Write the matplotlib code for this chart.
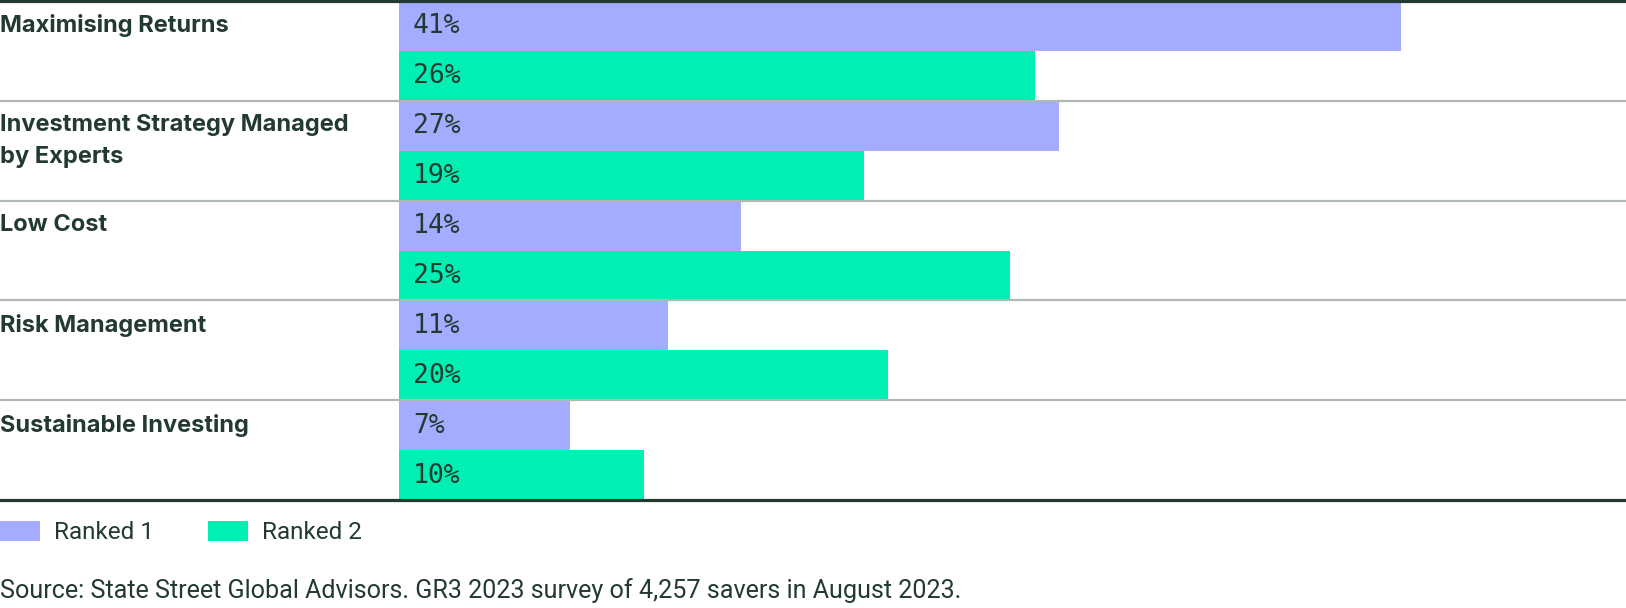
import matplotlib
matplotlib.use("Agg")
import matplotlib.pyplot as plt
from matplotlib.patches import Rectangle
from matplotlib.transforms import blended_transform_factory

categories = ["Maximising Returns", "Investment Strategy Managed\nby Experts",
              "Low Cost", "Risk Management", "Sustainable Investing"]
ranked1 = [41, 27, 14, 11, 7]
ranked2 = [26, 19, 25, 20, 10]
series_names = ["Ranked 1", "Ranked 2"]
source = "Source: State Street Global Advisors. GR3 2023 survey of 4,257 savers in August 2023."

C1 = "#a5abff"
C2 = "#00f0b4"
DARK = "#233a30"
GREY = "#b0b8b4"

W, H = 1626, 608
PX = 72 / 100  # points per pixel
fig = plt.figure(figsize=(W / 100, H / 100), dpi=100)
ax = fig.add_axes([399 / W, 108 / H, 1 - 399 / W, 499 / H])
ax.set_xlim(0, (W - 399) / 24.45)
n = len(categories)
ax.set_ylim(n, 0)
ax.axis("off")

ax.barh([i + 0.25 for i in range(n)], ranked1, height=0.5, color=C1, label=series_names[0])
ax.barh([i + 0.75 for i in range(n)], ranked2, height=0.5, color=C2, label=series_names[1])

bt = blended_transform_factory(fig.transFigure, ax.transData)
for i in range(n):
    for v, y in ((ranked1[i], i + 0.25), (ranked2[i], i + 0.75)):
        ax.annotate(f"{v}%", xy=(0, y), xytext=(14 * PX, -7.5 * PX), textcoords="offset points",
                    ha="left", va="baseline", fontsize=19, color=DARK,
                    family=["DejaVu Sans Mono"])
    ax.annotate(categories[i], xy=(0, i), xycoords=bt,
                xytext=(0, -13.3 * PX), textcoords="offset points", ha="left", va="top",
                fontsize=17, fontweight="bold", color=DARK, family=["Inter", "DejaVu Sans"],
                linespacing=1.6)

for i in range(1, n):
    ax.plot([0, 1], [i, i], transform=bt, color=GREY, lw=1.6, clip_on=False, zorder=3)
for yv in (0, n):
    ax.plot([0, 1], [yv, yv], transform=bt, color=DARK, lw=2.3, clip_on=False, zorder=4)

# legend
lf = ["Roboto", "DejaVu Sans"]
for j, (c, name) in enumerate(zip([C1, C2], series_names)):
    x0 = [0, 208][j]
    fig.patches.append(Rectangle((x0 / W, 1 - 541 / H), 40 / W, 20 / H, transform=fig.transFigure,
                                 facecolor=c, edgecolor="none"))
    fig.text((x0 + 54) / W, 1 - 539 / H, name, ha="left", va="baseline", fontsize=17.5,
             color=DARK, family=lf)

fig.text(0, 1 - 598 / H, source, ha="left", va="baseline", fontsize=18.1, color=DARK, family=lf)

fig.savefig("out.png", dpi=100)
